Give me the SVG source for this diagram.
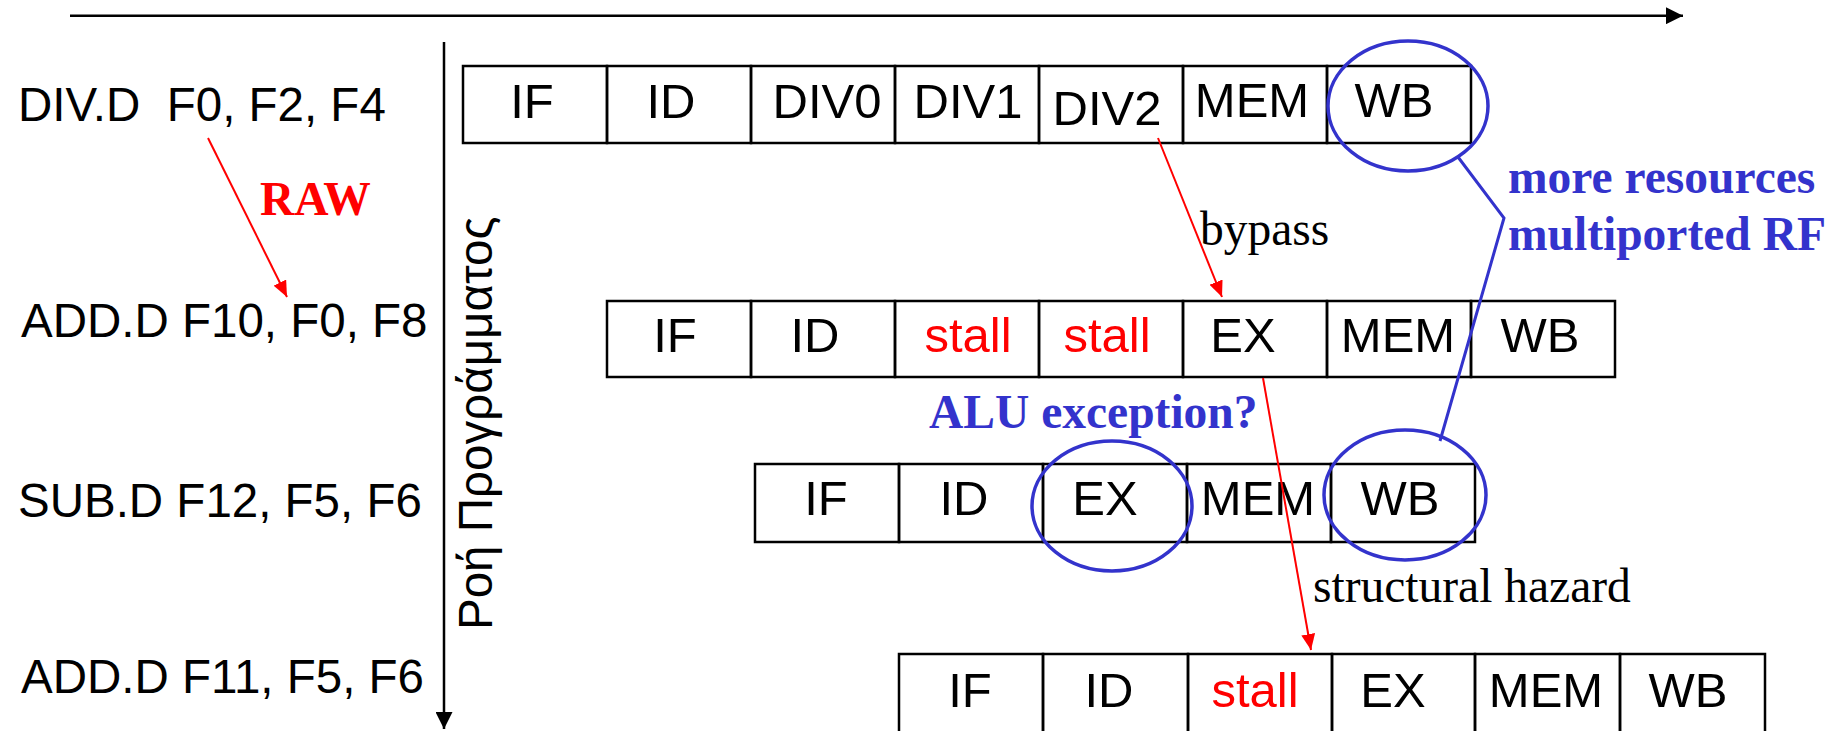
<svg xmlns="http://www.w3.org/2000/svg" width="1843" height="731" viewBox="0 0 1843 731">
<style>
.cell{fill:none;stroke:#000;stroke-width:2.5}
.t{font-family:"Liberation Sans",Arial,sans-serif;font-size:49px;text-anchor:middle;fill:#000}
.lbl{font-family:"Liberation Sans",Arial,sans-serif;font-size:47.5px;fill:#000}
.ann{font-family:"Liberation Serif","Times New Roman",serif;font-size:47.5px;fill:#000}
.red{fill:#f00}
.blue{fill:#33c;font-weight:bold}
.ell{fill:none;stroke:#33c;stroke-width:3.5}
.rarr{stroke:#f00;stroke-width:2;fill:none;marker-end:url(#ra)}
.karr{stroke:#000;stroke-width:2.5;fill:none;marker-end:url(#ka)}
</style>
<defs>
<marker id="ra" markerUnits="userSpaceOnUse" markerWidth="16" markerHeight="14" refX="16" refY="7" orient="auto"><path d="M0,0 L16,7 L0,14 z" fill="#f00"/></marker>
<marker id="ka" markerUnits="userSpaceOnUse" markerWidth="17" markerHeight="17" refX="17" refY="8.5" orient="auto"><path d="M0,0 L17,8.5 L0,17 z" fill="#000"/></marker>
</defs>
<rect width="1843" height="731" fill="#fff"/>

<g id="axes">
<line class="karr" x1="70" y1="15.7" x2="1683" y2="15.7"/>
<line class="karr" x1="444" y1="42" x2="444" y2="729"/>
<text class="lbl" transform="translate(492,630) rotate(-90)">Ροή Προγράμματος</text>
</g>

<g id="labels">
<text class="lbl" x="18" y="121">DIV.D&#160; F0, F2, F4</text>
<text class="lbl" x="21" y="337">ADD.D F10, F0, F8</text>
<text class="lbl" x="18" y="517">SUB.D F12, F5, F6</text>
<text class="lbl" x="21" y="693">ADD.D F11, F5, F6</text>
</g>

<g id="row1">
<rect class="cell" x="463" y="66" width="144" height="77"/>
<rect class="cell" x="607" y="66" width="144" height="77"/>
<rect class="cell" x="751" y="66" width="144" height="77"/>
<rect class="cell" x="895" y="66" width="144" height="77"/>
<rect class="cell" x="1039" y="66" width="144" height="77"/>
<rect class="cell" x="1183" y="66" width="144" height="77"/>
<rect class="cell" x="1327" y="66" width="144" height="77"/>
<text class="t" x="532" y="118">IF</text>
<text class="t" x="671" y="118">ID</text>
<text class="t" x="827" y="118">DIV0</text>
<text class="t" x="968" y="118">DIV1</text>
<text class="t" x="1107" y="125">DIV2</text>
<text class="t" x="1252" y="117">MEM</text>
<text class="t" x="1394" y="117">WB</text>
</g>

<g id="row2">
<rect class="cell" x="607" y="301" width="144" height="76"/>
<rect class="cell" x="751" y="301" width="144" height="76"/>
<rect class="cell" x="895" y="301" width="144" height="76"/>
<rect class="cell" x="1039" y="301" width="144" height="76"/>
<rect class="cell" x="1183" y="301" width="144" height="76"/>
<rect class="cell" x="1327" y="301" width="144" height="76"/>
<rect class="cell" x="1471" y="301" width="144" height="76"/>
<text class="t" x="675" y="352">IF</text>
<text class="t" x="815" y="352">ID</text>
<text class="t red" x="968" y="352">stall</text>
<text class="t red" x="1107" y="352">stall</text>
<text class="t" x="1243" y="352">EX</text>
<text class="t" x="1398" y="352">MEM</text>
<text class="t" x="1540" y="352">WB</text>
</g>

<g id="row3">
<rect class="cell" x="755" y="464" width="144" height="78"/>
<rect class="cell" x="899" y="464" width="144" height="78"/>
<rect class="cell" x="1043" y="464" width="144" height="78"/>
<rect class="cell" x="1187" y="464" width="144" height="78"/>
<rect class="cell" x="1331" y="464" width="144" height="78"/>
<text class="t" x="826" y="515">IF</text>
<text class="t" x="964" y="515">ID</text>
<text class="t" x="1105" y="515">EX</text>
<text class="t" x="1258" y="515">MEM</text>
<text class="t" x="1400" y="515">WB</text>
</g>

<g id="row4">
<rect class="cell" x="899" y="654" width="144" height="82"/>
<rect class="cell" x="1043" y="654" width="145" height="82"/>
<rect class="cell" x="1188" y="654" width="144" height="82"/>
<rect class="cell" x="1332" y="654" width="143" height="82"/>
<rect class="cell" x="1475" y="654" width="145" height="82"/>
<rect class="cell" x="1620" y="654" width="145" height="82"/>
<text class="t" x="970" y="707">IF</text>
<text class="t" x="1109" y="707">ID</text>
<text class="t red" x="1255" y="707">stall</text>
<text class="t" x="1393" y="707">EX</text>
<text class="t" x="1546" y="707">MEM</text>
<text class="t" x="1688" y="707">WB</text>
</g>

<g id="connectors">
<line class="rarr" x1="208" y1="138" x2="287" y2="297"/>
<line class="rarr" x1="1158" y1="138" x2="1222" y2="297"/>
<line class="rarr" x1="1263" y1="378" x2="1311" y2="650"/>
<ellipse class="ell" cx="1408" cy="106" rx="80" ry="65"/>
<ellipse class="ell" cx="1112" cy="506" rx="80" ry="65"/>
<ellipse class="ell" cx="1405" cy="495" rx="81" ry="65"/>
<polyline points="1458,157 1504,218 1440,441" fill="none" stroke="#33c" stroke-width="3"/>
</g>

<g id="annotations">
<text class="ann red" x="260" y="215" font-weight="bold" font-size="52">RAW</text>
<text class="ann" x="1200" y="245">bypass</text>
<text class="ann blue" x="1508" y="193">more resources</text>
<text class="ann blue" x="1508" y="250">multiported RF</text>
<text class="ann blue" x="929" y="428">ALU exception?</text>
<text class="ann" x="1313" y="602">structural hazard</text>
</g>
</svg>
